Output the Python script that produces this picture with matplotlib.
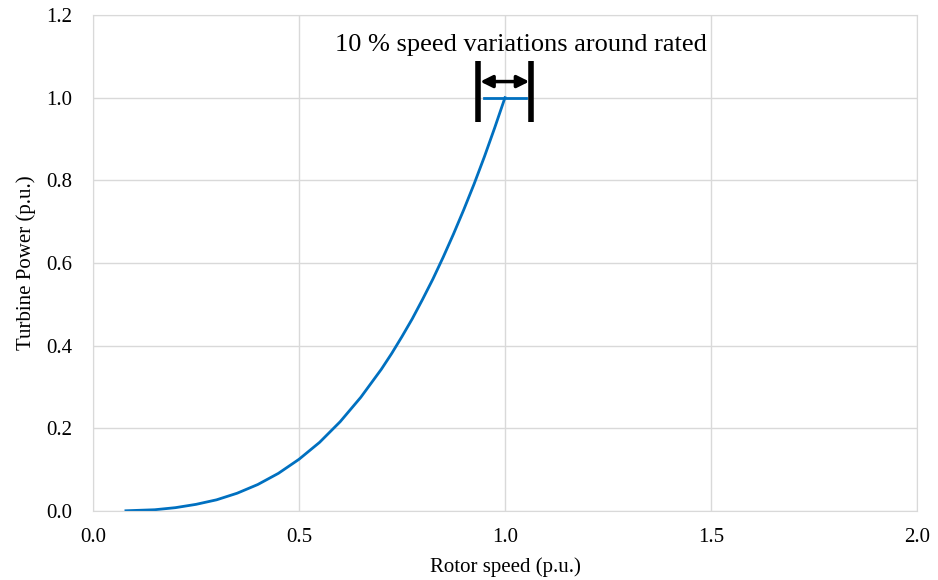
import matplotlib.pyplot as plt
import matplotlib.ticker as ticker

# rotor speed vs turbine power
speed = [0.08, 0.15, 0.2, 0.25, 0.3, 0.35, 0.4, 0.45, 0.5, 0.55, 0.6, 0.65,
         0.7, 0.725, 0.75, 0.775, 0.8, 0.825, 0.85, 0.875, 0.9, 0.925, 0.95, 0.975, 1.0]
power = [0.0005, 0.003, 0.008, 0.016, 0.027, 0.043, 0.064, 0.091, 0.125, 0.166,
         0.216, 0.275, 0.343, 0.381, 0.422, 0.465, 0.512, 0.561, 0.614, 0.670,
         0.729, 0.791, 0.857, 0.927, 1.0]

# rated plateau
rated_speed = [0.95, 1.05]
rated_power = [1.0, 1.0]

# +/- band markers
band_left = 0.935
band_right = 1.064

xticks = [0.0, 0.5, 1.0, 1.5, 2.0]
yticks = [0.0, 0.2, 0.4, 0.6, 0.8, 1.0, 1.2]

plt.rcParams['font.family'] = ['Liberation Serif', 'DejaVu Serif']

fig = plt.figure(figsize=(9.38, 5.8), dpi=100)
ax = fig.add_axes([0.0991, 0.119, 0.8785, 0.8551])

ax.plot(speed, power, color='#0070C0', lw=2)
ax.plot(rated_speed, rated_power, color='#0070C0', lw=2)

# band limits and arrow
ax.plot([band_left, band_left], [0.942, 1.088], color='black', lw=4, solid_capstyle='butt')
ax.plot([band_right, band_right], [0.942, 1.088], color='black', lw=4, solid_capstyle='butt')
ax.annotate('', xy=(band_left + 0.005, 1.039), xytext=(band_right - 0.005, 1.039),
            arrowprops=dict(arrowstyle='<|-|>', color='black', lw=2.5,
                            mutation_scale=18, shrinkA=0, shrinkB=0))
ax.text(1.039, 1.128, '10 % speed variations around rated', ha='center', va='center',
        fontsize=19)

ax.set_xlim(0, 2)
ax.set_ylim(0, 1.2)
ax.set_xticks(xticks)
ax.set_yticks(yticks)
ax.xaxis.set_major_formatter(ticker.FormatStrFormatter('%.1f'))
ax.yaxis.set_major_formatter(ticker.FormatStrFormatter('%.1f'))
ax.tick_params(length=0, labelsize=15)
ax.tick_params(axis='y', pad=15)
ax.tick_params(axis='x', pad=12)

ax.grid(True, color='#d9d9d9', lw=1)
ax.set_axisbelow(True)
for s in ax.spines.values():
    s.set_color('#d9d9d9')

ax.set_xlabel('Rotor speed (p.u.)', fontsize=15, labelpad=8)
ax.set_ylabel('Turbine Power (p.u.)', fontsize=15, labelpad=7)

plt.savefig('out.png', dpi=100)
